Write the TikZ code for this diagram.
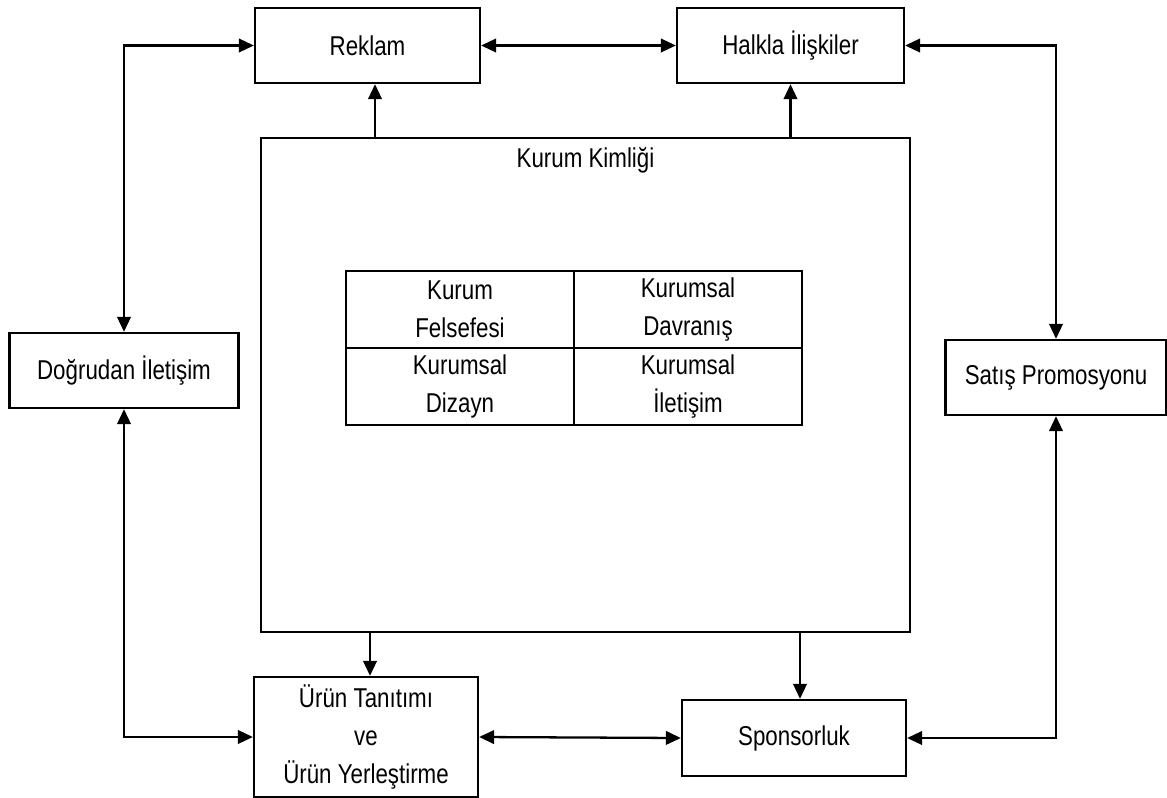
\documentclass[tikz,border=0pt]{standalone}
\usepackage{fontspec}
\setmainfont[FakeStretch=0.82]{Liberation Sans}
\usetikzlibrary{arrows.meta,calc}
\begin{document}
\begin{tikzpicture}[x=0.02cm,y=-0.02cm,
  box/.style={draw,line width=1.3pt,align=center,inner sep=0pt,font=\fontsize{15.5}{21.5}\selectfont},
  cell/.style={draw,line width=1.3pt,align=center,inner sep=0pt,minimum width=4.56cm,minimum height=1.54cm,font=\fontsize{15.5}{21.5}\selectfont},
  conn/.style={line width=1.3pt,-{Triangle[length=0.3cm,width=0.27cm]}},
  dconn/.style={line width=1.3pt,{Triangle[length=0.3cm,width=0.27cm]}-{Triangle[length=0.3cm,width=0.27cm]}}]
\useasboundingbox (0,0) rectangle (1167,798);
\node[box,minimum width=4.5cm,minimum height=1.5cm] (reklam) at (367.5,45.5) {Reklam};
\node[box,minimum width=4.54cm,minimum height=1.5cm] (halkla) at (790.5,45.5) {Halkla İlişkiler};
\node[box,minimum width=12.98cm,minimum height=9.88cm] (kurum) at (585.5,385) {};
\node[font=\fontsize{15.5}{21.5}\selectfont] (kurumt) at (585.5,160) {Kurum Kimliği};
\node[box,minimum width=4.58cm,minimum height=1.5cm] (dogrudan) at (124,370.5) {Doğrudan İletişim};
\node[box,minimum width=4.42cm,minimum height=1.5cm] (satis) at (1056,377.5) {Satış Promosyonu};
\node[box,minimum width=4.48cm,minimum height=2.4cm] (urun) at (366,737) {Ürün Tanıtımı\\ve\\Ürün Yerleştirme};
\node[box,minimum width=4.48cm,minimum height=1.52cm] (sponsor) at (794,738) {Sponsorluk};
\node[cell] (c1) at (460,309.5) {Kurum\\Felsefesi};
\node[cell] (c2) at (688,309.5) {Kurumsal\\Davranış};
\node[cell] (c3) at (460,386.5) {Kurumsal\\Dizayn};
\node[cell] (c4) at (688,386.5) {Kurumsal\\İletişim};
\draw[dconn] (reklam.west) -| (dogrudan.north);
\draw[dconn] (reklam.east) -- (halkla.west);
\draw[dconn] (halkla.east) -| (satis.north);
\draw[conn] ([xshift=0.15cm]reklam.south |- kurum.north) -- ([xshift=0.15cm]reklam.south);
\draw[conn] (halkla.south |- kurum.north) -- (halkla.south);
\draw[conn] ([xshift=0.08cm]urun.north |- kurum.south) -- ([xshift=0.08cm]urun.north);
\draw[conn] ([xshift=0.12cm]sponsor.north |- kurum.south) -- ([xshift=0.12cm]sponsor.north);
\draw[dconn] (dogrudan.south) |- (urun.west);
\draw[dconn] (urun.east) -- (sponsor.west);
\draw[dconn] (sponsor.east) -| (satis.south);
\end{tikzpicture}
\end{document}
